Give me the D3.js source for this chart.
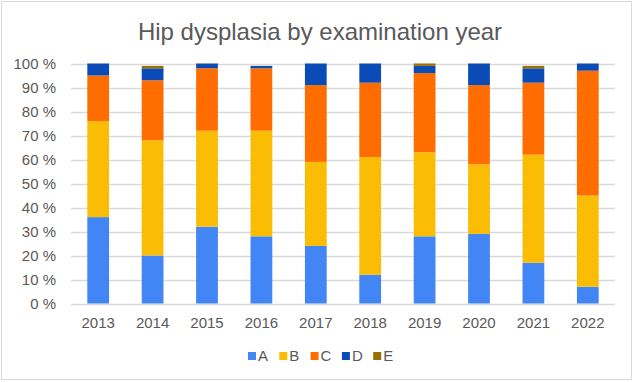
<!DOCTYPE html>
<html>
<head>
<meta charset="utf-8">
<script src="https://cdn.jsdelivr.net/npm/d3@7"></script>
<style>
  html, body { margin: 0; padding: 0; background: #fff; }
  svg { display: block; font-family: "Liberation Sans", Arial, sans-serif; }
</style>
</head>
<body>
<svg id="chart" width="635" height="382"></svg>
<script>
const years = ["2013","2014","2015","2016","2017","2018","2019","2020","2021","2022"];
const seriesNames = ["A","B","C","D","E"];
const valuesA = [36, 20, 32, 28, 24, 12, 28, 29, 17, 7];
const valuesB = [40, 48, 40, 44, 35, 49, 35, 29, 45, 38];
const valuesC = [19, 25, 26, 26, 32, 31, 33, 33, 30, 52];
const valuesD = [5, 5, 2, 1, 9, 8, 3, 9, 6, 3];
const valuesE = [0, 1, 0, 0, 0, 0, 1, 0, 1, 0];
const colors = ["#4285f4", "#fbbc04", "#ff6d01", "#0b4bb5", "#9b7000"];
const yTicks = [0,10,20,30,40,50,60,70,80,90,100];
const title = "Hip dysplasia by examination year";

const rows = years.map((y, i) => ({
  year: y, A: valuesA[i], B: valuesB[i], C: valuesC[i], D: valuesD[i], E: valuesE[i]
}));

const svg = d3.select("#chart");
const W = 635, H = 382;
const plot = { left: 71, right: 615, top: 63.5, bottom: 303.5 };
const textColor = "#595959";

// chart border
svg.append("rect").attr("x", 1.5).attr("y", 1.5).attr("width", 630).attr("height", 378)
  .attr("fill", "#fff").attr("stroke", "#d9d9d9").attr("stroke-width", 1);

// title
svg.append("text").attr("x", 320).attr("y", 39.5).attr("text-anchor", "middle")
  .attr("font-size", 24).attr("fill", textColor).text(title);

const x = d3.scaleBand().domain(years).range([plot.left, plot.right]).paddingInner(0.6).paddingOuter(0.3);
const y = d3.scaleLinear().domain([0, 100]).range([plot.bottom, plot.top]);

// gridlines
svg.append("g").selectAll("line").data(yTicks).join("line")
  .attr("x1", plot.left).attr("x2", plot.right)
  .attr("y1", d => Math.round(y(d)) + 0.5).attr("y2", d => Math.round(y(d)) + 0.5)
  .attr("stroke", "#d9d9d9").attr("stroke-width", 1.3);

// bars
const stack = d3.stack().keys(seriesNames)(rows);
svg.append("g").selectAll("g").data(stack).join("g")
  .attr("fill", (d, i) => colors[i])
  .selectAll("rect").data(d => d).join("rect")
  .attr("x", d => x(d.data.year))
  .attr("width", x.bandwidth())
  .attr("y", d => y(d[1]))
  .attr("height", d => Math.max(0, y(d[0]) - y(d[1])));

// y axis labels
const yAxis = d3.axisLeft(y).tickValues(yTicks).tickFormat(d => d + " %").tickSize(0).tickPadding(15);
const ya = svg.append("g").attr("transform", `translate(${plot.left},0)`).call(yAxis);
ya.select(".domain").remove();
ya.selectAll("text").attr("font-size", 15).attr("fill", textColor)
  .attr("font-family", "Liberation Sans, Arial, sans-serif");

// x axis labels
const xAxis = d3.axisBottom(x).tickSize(0).tickPadding(14);
const xa = svg.append("g").attr("transform", `translate(0,${plot.bottom})`).call(xAxis);
xa.select(".domain").remove();
xa.selectAll("text").attr("font-size", 15).attr("fill", textColor)
  .attr("font-family", "Liberation Sans, Arial, sans-serif");

// legend
const legendX0 = 248, legendStep = 31.3;
const lg = svg.append("g").selectAll("g").data(seriesNames).join("g")
  .attr("transform", (d, i) => `translate(${legendX0 + i * legendStep},352)`);
lg.append("rect").attr("width", 8).attr("height", 8).attr("fill", (d, i) => colors[i]);
lg.append("text").attr("x", 10).attr("y", 8.7).attr("font-size", 15).attr("fill", textColor).text(d => d);
</script>
</body>
</html>
